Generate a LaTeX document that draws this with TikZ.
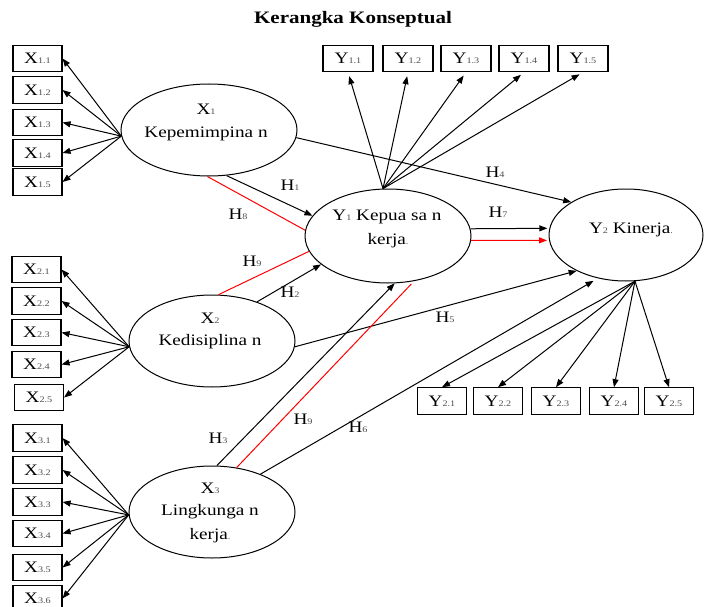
\documentclass[tikz,border=0pt]{standalone}
\usepackage{fontspec}
\setmainfont{Liberation Serif}[FakeStretch=1.2]
\usetikzlibrary{shapes.geometric,arrows.meta}
\newcommand\sbs[1]{{\fontsize{8.5}{9}\selectfont\color{black!70}#1}}
\begin{document}
\begin{tikzpicture}[x=1pt,y=-1pt,
  lat/.style={draw,ellipse,line width=1pt,inner sep=0pt},
  ind/.style={draw,rectangle,line width=1.1pt,minimum width=49pt,minimum height=26.5pt,inner sep=0pt,font=\fontsize{16}{18}\selectfont},
  arr/.style={line width=1pt,-{Triangle[length=8pt,width=6pt]}},
  redl/.style={line width=1pt,red},
  txt/.style={font=\fontsize{16}{18}\selectfont,inner sep=0pt,anchor=base},
  hl/.style={font=\fontsize{16}{18}\selectfont,inner sep=0pt}]
\useasboundingbox (0,0) rectangle (704,607);

\node[font=\bfseries\fontsize{17.5}{20}\selectfont,inner sep=0pt] (title) at (353,19) {Kerangka Konseptual};

% latent variables
\node[lat,minimum width=176pt,minimum height=92pt] (x1) at (209,130) {};
\node[lat,minimum width=166pt,minimum height=94pt] (y1) at (388,236) {};
\node[lat,minimum width=154pt,minimum height=92pt] (y2) at (626,235) {};
\node[lat,minimum width=166pt,minimum height=92pt] (x2) at (212,341) {};
\node[lat,minimum width=166pt,minimum height=92pt] (x3) at (212,512) {};

\node[txt] (x1a) at (206,115) {X\sbs{1}};
\node[txt] (x1b) at (206,138) {Kepemimpina n};
\node[txt] (y1a) at (387,220) {Y\sbs{1} Kepua sa n};
\node[txt] (y1b) at (388,244) {kerja\sbs{.}};
\node[txt] (y2a) at (631,233) {Y\sbs{2} Kinerja\sbs{.}};
\node[txt] (x2a) at (210,323) {X\sbs{2}};
\node[txt] (x2b) at (210,345) {Kedisiplina n};
\node[txt] (x3a) at (210,493) {X\sbs{3}};
\node[txt] (x3b) at (210,515) {Lingkunga n};
\node[txt] (x3c) at (210,539) {kerja\sbs{.}};

% indicator boxes X1
\node[ind] (x11) at (37.5,58.5) {X\sbs{1.1}};
\node[ind] (x12) at (37.5,90) {X\sbs{1.2}};
\node[ind] (x13) at (37.5,122.5) {X\sbs{1.3}};
\node[ind] (x14) at (37.5,153) {X\sbs{1.4}};
\node[ind] (x15) at (37.5,182) {X\sbs{1.5}};
% X2
\node[ind] (x21) at (36.5,269.5) {X\sbs{2.1}};
\node[ind] (x22) at (36.5,301) {X\sbs{2.2}};
\node[ind] (x23) at (36.5,332.5) {X\sbs{2.3}};
\node[ind] (x24) at (36.5,364.5) {X\sbs{2.4}};
\node[ind] (x25) at (39,397.5) {X\sbs{2.5}};
% X3
\node[ind] (x31) at (37.5,438) {X\sbs{3.1}};
\node[ind] (x32) at (37.5,470) {X\sbs{3.2}};
\node[ind] (x33) at (37.5,502) {X\sbs{3.3}};
\node[ind] (x34) at (37.5,533.5) {X\sbs{3.4}};
\node[ind] (x35) at (37.5,567.5) {X\sbs{3.5}};
\node[ind] (x36) at (37.5,598.5) {X\sbs{3.6}};
% Y1
\node[ind,minimum width=50pt] (y11) at (348,58.5) {Y\sbs{1.1}};
\node[ind,minimum width=50pt] (y12) at (408,58.5) {Y\sbs{1.2}};
\node[ind,minimum width=50pt] (y13) at (466,58.5) {Y\sbs{1.3}};
\node[ind,minimum width=50pt] (y14) at (524,58.5) {Y\sbs{1.4}};
\node[ind,minimum width=50pt] (y15) at (583,58.5) {Y\sbs{1.5}};
% Y2
\node[ind] (y21) at (442,401) {Y\sbs{2.1}};
\node[ind] (y22) at (498,401) {Y\sbs{2.2}};
\node[ind] (y23) at (556,401) {Y\sbs{2.3}};
\node[ind] (y24) at (614,401) {Y\sbs{2.4}};
\node[ind] (y25) at (669,401) {Y\sbs{2.5}};

% indicator arrows
\foreach \i in {1,...,5} \draw[arr] (x1.184.5) -- (x1\i.east);
\foreach \i in {1,...,5} \draw[arr] (x2.184) -- (x2\i.east);
\foreach \i in {1,...,6} \draw[arr] (x3.182) -- (x3\i.east);
\foreach \i in {1,...,5} \draw[arr,shorten >=4pt] (y1.96) -- (y1\i.south);
\foreach \i in {1,...,5} \draw[arr] (y2.-79) -- (y2\i.north);

% structural paths
\draw[arr] (x1.-5) -- (y2.149);
\draw[arr] (x1.-69) -- (y1.165);
\draw[redl] (x1.-92) -- (y1.176);
\draw[redl] (x2.82) -- (y1.191);
\draw[arr] (x2.41) -- (y1.203);
\draw[arr] (x2.-4) -- (y2.216);
\draw[arr] (x3.84) -- (y1.-82);
\draw[redl,shorten >=4pt] (x3.61) -- (y1.-60.6);
\draw[arr,shorten >=5pt] (x3.38) -- (y2.237);
\draw[arr,shorten >=2pt] (y1.5) -- (y2.175.7);
\draw[arr,red,shorten >=2pt] (y1.-3.4) -- (y2.184.3);

% path labels
\node[hl] (h1) at (290,185) {H\sbs{1}};
\node[hl] (h8) at (238,214) {H\sbs{8}};
\node[hl] (h9a) at (252,261) {H\sbs{9}};
\node[hl] (h2) at (290,292) {H\sbs{2}};
\node[hl] (h3) at (218,438) {H\sbs{3}};
\node[hl] (h9b) at (303,419) {H\sbs{9}};
\node[hl] (h4) at (495,172) {H\sbs{4}};
\node[hl] (h5) at (445,317) {H\sbs{5}};
\node[hl] (h6) at (358,427) {H\sbs{6}};
\node[hl] (h7) at (498,212) {H\sbs{7}};
\end{tikzpicture}
\end{document}
